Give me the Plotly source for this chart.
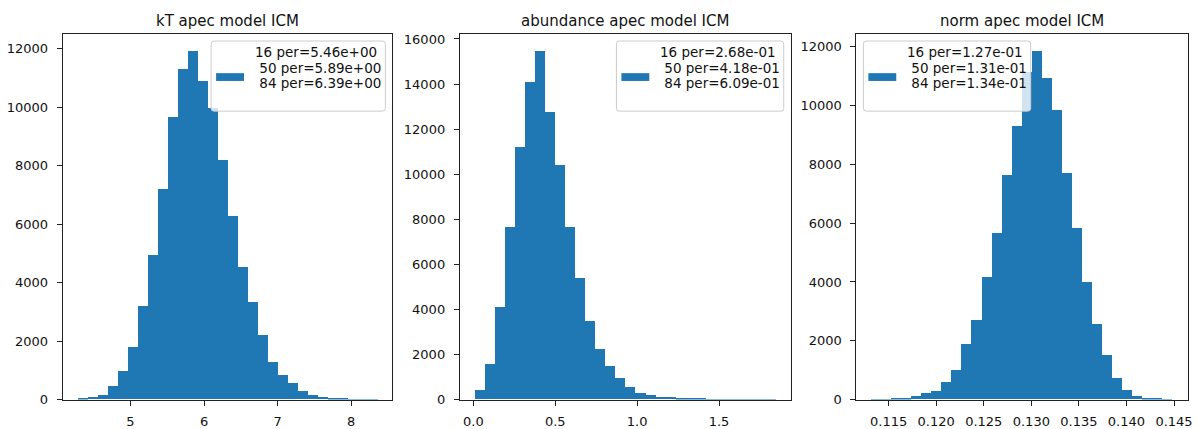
import numpy as np
import plotly.graph_objects as go

# Histogram counts (30 equal-width bins between the sample min and max)
kt_counts = [25, 80, 140, 460, 970, 1790, 3180, 4930, 7200, 9670,
             11290, 11900, 10900, 9960, 8200, 6260, 4530, 3320, 2210, 1290,
             850, 550, 290, 150, 80, 45, 22, 10, 5, 2]
abund_counts = [430, 1570, 4120, 7670, 11200, 14090, 15440, 12760, 10410, 7630,
                5390, 3500, 2250, 1460, 930, 548, 272, 178, 125, 95,
                70, 50, 20, 12, 8, 5, 3, 2, 1, 1]
norm_counts = [5, 10, 30, 55, 100, 232, 290, 586, 1006, 1867,
               2685, 4166, 5647, 7625, 9293, 11150, 11835, 10929, 9846, 7713,
               5812, 4000, 2553, 1514, 718, 332, 122, 45, 20, 8]

# Sample min / max of each parameter chain
kt_span = [4.284, 8.355]
abund_span = [0.009, 1.846]
norm_span = [0.1132, 0.14486]

# 16th / 50th / 84th percentiles
kt_pct = [5.46, 5.89, 6.39]
abund_pct = [0.268, 0.418, 0.609]
norm_pct = [0.127, 0.131, 0.134]
pct_names = ["16", "50", "84"]

titles = ["kT apec model ICM", "abundance apec model ICM", "norm apec model ICM"]

x_ticks = [[5, 6, 7, 8], [0.0, 0.5, 1.0, 1.5],
           [0.115, 0.120, 0.125, 0.130, 0.135, 0.140, 0.145]]
x_fmt = ["d", ".1f", ".3f"]
y_ticks = [list(range(0, 12001, 2000)), list(range(0, 16001, 2000)),
           list(range(0, 12001, 2000))]

W, H = 1204, 429
BLUE = "#1f77b4"
FONT = "DejaVu Sans"

# Axes boxes in pixels: (left, right), shared top / bottom
boxes = [(63, 394), (461.7, 794), (860, 1192.7)]
top_px, bot_px = 32, 407
# Legend placement per panel: anchor side and box width in pixels
leg_side = ["right", "right", "left"]
leg_width = [175, 168, 168]
line_centers = [50, 66.5, 82]


def px(x):
    return x / W


def py(y):
    return 1 - y / H


def rounded_rect(x0, y0, x1, y1, r):
    # rectangle in pixel space with rounded corners, returned in paper coordinates
    pts = [
        f"M{px(x0 + r)},{py(y0)}",
        f"L{px(x1 - r)},{py(y0)}",
        f"Q{px(x1)},{py(y0)} {px(x1)},{py(y0 + r)}",
        f"L{px(x1)},{py(y1 - r)}",
        f"Q{px(x1)},{py(y1)} {px(x1 - r)},{py(y1)}",
        f"L{px(x0 + r)},{py(y1)}",
        f"Q{px(x0)},{py(y1)} {px(x0)},{py(y1 - r)}",
        f"L{px(x0)},{py(y0 + r)}",
        f"Q{px(x0)},{py(y0)} {px(x0 + r)},{py(y0)}",
        "Z",
    ]
    return " ".join(pts)


fig = go.Figure()
panels = [(kt_counts, kt_span, kt_pct), (abund_counts, abund_span, abund_pct),
          (norm_counts, norm_span, norm_pct)]

shapes, annotations = [], []
for i, (counts, span, pct) in enumerate(panels):
    n = len(counts)
    edges = np.linspace(span[0], span[1], n + 1)
    centers = (edges[:-1] + edges[1:]) / 2
    width = edges[1] - edges[0]
    xa = "x" if i == 0 else f"x{i + 1}"
    ya = "y" if i == 0 else f"y{i + 1}"
    fig.add_trace(go.Bar(x=centers, y=counts, width=width, xaxis=xa, yaxis=ya,
                         marker=dict(color=BLUE, line=dict(width=0)),
                         showlegend=False))

    lo, hi = span
    pad = 0.05 * (hi - lo)
    l, r = boxes[i]
    ax_key = "xaxis" if i == 0 else f"xaxis{i + 1}"
    ay_key = "yaxis" if i == 0 else f"yaxis{i + 1}"
    common = dict(showline=True, linecolor="#222", linewidth=1, mirror=True,
                  ticks="outside", ticklen=5, tickwidth=1, tickcolor="#222",
                  showgrid=False, zeroline=False,
                  tickfont=dict(family=FONT, size=13, color="#111"))
    fig.layout[ax_key] = dict(domain=[px(l), px(r)], anchor=ya,
                              range=[lo - pad, hi + pad], tickvals=x_ticks[i],
                              tickformat=x_fmt[i], ticklabelstandoff=5, **common)
    fig.layout[ay_key] = dict(domain=[py(bot_px), py(top_px)], anchor=xa,
                              range=[0, 1.05 * max(counts)], tickvals=y_ticks[i],
                              tickformat="d", ticklabelstandoff=6, **common)

    # subplot title
    annotations.append(dict(text=titles[i], x=px((l + r) / 2), y=py(18),
                            xref="paper", yref="paper", xanchor="center",
                            yanchor="middle", showarrow=False,
                            font=dict(family=FONT, size=15, color="#111")))

    # legend box with handle and percentile text
    lw = leg_width[i]
    if leg_side[i] == "right":
        bx1 = r - 7
        bx0 = bx1 - lw
    else:
        bx0 = l + 7
        bx1 = bx0 + lw
    by0, by1 = 39, 111
    shapes.append(dict(type="path", xref="paper", yref="paper",
                       path=rounded_rect(bx0, by0, bx1, by1, 3),
                       fillcolor="rgba(255,255,255,0.8)",
                       line=dict(color="#cccccc", width=1), layer="above"))
    hx0 = bx0 + 5
    shapes.append(dict(type="rect", xref="paper", yref="paper",
                       x0=px(hx0), x1=px(hx0 + 28), y0=py(80), y1=py(72),
                       fillcolor=BLUE, line=dict(width=0), layer="above"))
    for k, (name, val) in enumerate(zip(pct_names, pct)):
        lead = "" if k == 0 else "\u00a0"
        annotations.append(dict(text=f"{lead}{name} per={val:.2e}",
                                x=px(hx0 + 28 + 9), y=py(line_centers[k]),
                                xref="paper", yref="paper", xanchor="left",
                                yanchor="middle", align="left", showarrow=False,
                                font=dict(family=FONT, size=13.5, color="#111")))

fig.update_layout(width=W, height=H, margin=dict(l=0, r=0, t=0, b=0),
                  paper_bgcolor="white", plot_bgcolor="white", bargap=0,
                  shapes=shapes, annotations=annotations, showlegend=False)

fig.write_html("out.html")
